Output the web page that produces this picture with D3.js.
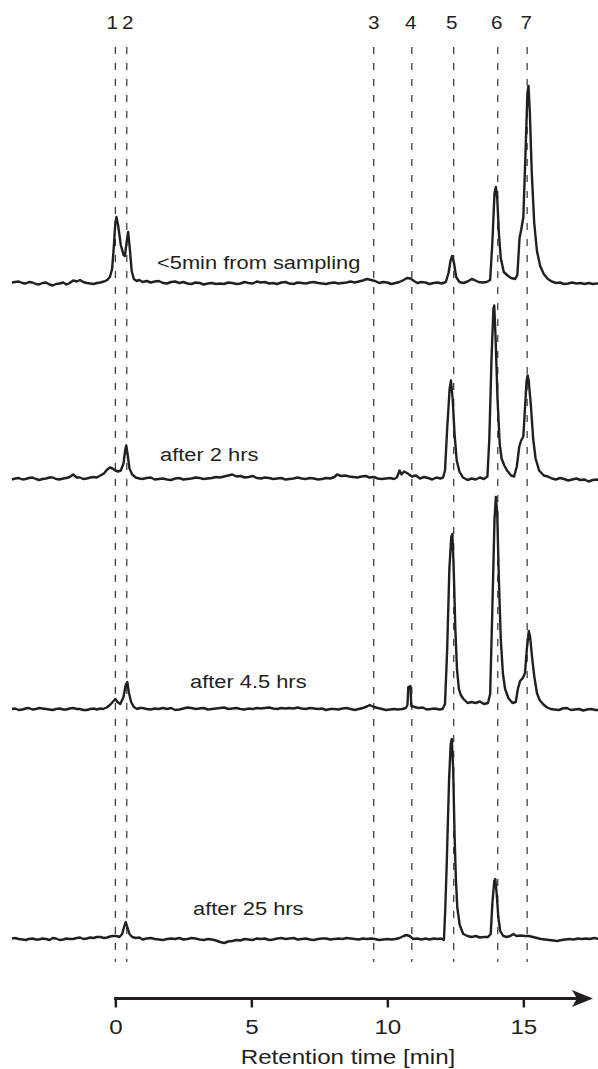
<!DOCTYPE html>
<html>
<head>
<meta charset="utf-8">
<script src="https://cdn.jsdelivr.net/npm/d3@7"></script>
<style>
  body { margin: 0; background: #fff; }
  svg { display: block; font-family: "Liberation Sans", Arial, Helvetica, sans-serif; }
</style>
</head>
<body>
<div id="chart"></div>
<script>
// marked compounds and their retention times (min)
const peakLabels = ["1", "2", "3", "4", "5", "6", "7"];
const peakTimes = [0.0, 0.42, 9.5, 10.9, 12.44, 14.06, 15.14];

const traceNames = ["<5min from sampling", "after 2 hrs", "after 4.5 hrs", "after 25 hrs"];
const xTicks = [0, 5, 10, 15];

// [retention time (min), detector signal (a.u.)]
const trace5min = [
  [-3.8,0.5],[-3.68,1],[-3.55,1.5],[-3.42,0],[-3.3,-0.5],[-3.18,1],[-3.05,0.5],[-2.92,-1],[-2.8,-1.5],
  [-2.68,0],[-2.55,0.5],[-2.42,-1.5],[-2.3,-2.5],[-2.18,-1],[-2.05,-0.5],[-1.92,0.5],[-1.8,-1.5],
  [-1.68,0],[-1.55,2.5],[-1.42,1.5],[-1.3,3],[-1.18,1],[-1.05,0],[-0.92,-0.5],[-0.8,-1],[-0.68,0],
  [-0.55,0.5],[-0.42,1.5],
  [-0.3,3],[-0.2,6],[-0.12,14],[-0.06,35],[0.0,60],[0.04,66],[0.1,58],[0.2,38],[0.3,28],[0.35,27],
  [0.41,40],[0.47,51],[0.53,35],[0.6,12],[0.68,4],[0.78,2],[0.88,3],
  [1.0,1],[1.15,2],[1.3,0.5],[1.45,1.5],[1.6,2],[1.75,0],[1.9,-0.5],[2.05,1],[2.2,1.5],[2.35,0],
  [2.5,1],[2.65,-0.5],[2.8,-1],[2.95,0.5],[3.1,0],[3.25,-1.5],[3.4,-0.5],[3.55,0],[3.7,-1],[3.85,-0.5],
  [4.0,-1],[4.15,0.5],[4.3,0],[4.45,-1],[4.6,-0.5],[4.75,1],[4.9,0],[5.05,-0.5],[5.2,1.5],[5.35,0.5],
  [5.5,1],[5.65,-0.5],[5.8,0],[5.95,-1],[6.1,0.5],[6.25,1],[6.4,-0.5],[6.55,-1],[6.7,0.5],[6.85,0],
  [7.0,-0.5],[7.15,0.5],[7.3,1],[7.45,0],[7.6,-0.5],[7.75,-1],[7.9,0],[8.05,0.5],[8.2,-0.5],[8.35,0],
  [8.5,0.5],[8.65,1.5],[8.8,0.5],[8.95,1.5],[9.1,2.5],[9.25,4],[9.4,3],[9.55,2],[9.7,0],[9.85,1],
  [10.0,0.5],[10.15,-1],[10.3,0],[10.45,1],[10.6,3],[10.72,5],[10.85,4.5],[10.98,2],[11.1,0],
  [11.25,1],[11.4,0.5],[11.55,-1],[11.7,0],[11.85,0.5],[12.0,-0.5],[12.15,1],
  [12.25,10],[12.32,22],[12.38,27],[12.45,20],[12.53,6],[12.65,1],[12.8,0],[12.95,1.5],[13.1,4],
  [13.2,3],[13.35,1],[13.5,0.5],[13.65,1],[13.78,3],[13.86,40],[13.94,90],[13.99,96],[14.04,85],
  [14.1,50],[14.17,25],[14.28,11],[14.4,8],[14.55,5],[14.7,4],[14.78,8],[14.86,45],[14.92,53],
  [15.0,66],[15.08,130],[15.15,190],[15.19,197],[15.24,170],[15.31,110],[15.4,60],[15.5,32],
  [15.62,17],[15.75,9],[15.9,4],
  [16.05,1.5],[16.2,0],[16.35,0.5],[16.5,-1],[16.65,-0.5],[16.8,0.5],[16.95,-0.5],[17.1,0],
  [17.25,-1],[17.4,0],[17.55,-1],[17.7,-0.5],[17.8,0]
];

const trace2h = [
  [-3.8,-1],[-3.68,0],[-3.55,0.5],[-3.42,-1],[-3.3,-0.5],[-3.18,0.5],[-3.05,1],[-2.92,-0.5],
  [-2.8,-1.5],[-2.68,-0.5],[-2.55,0],[-2.42,1],[-2.3,1],[-2.18,-0.5],[-2.05,-1],[-1.92,0],[-1.8,0.5],
  [-1.68,1.5],[-1.55,4],[-1.42,1],[-1.3,1],[-1.18,-0.5],[-1.05,0],[-0.92,1],[-0.8,1.5],[-0.68,1],
  [-0.55,3],
  [-0.42,5],[-0.3,9],[-0.2,11],[-0.1,10],[0.0,8],[0.1,7],[0.2,8],[0.3,15],[0.36,28],[0.4,33],
  [0.45,24],[0.52,10],[0.62,4],[0.75,1],[0.88,0],
  [1.0,-0.5],[1.15,0.5],[1.3,1],[1.45,-1],[1.6,-0.5],[1.75,0],[1.9,-1],[2.05,-1.5],[2.2,0],[2.35,0.5],
  [2.5,-1],[2.65,-0.5],[2.8,0],[2.95,1],[3.1,0.5],[3.25,-0.5],[3.4,0],[3.55,0.5],[3.7,1.5],[3.85,1],
  [4.0,2],[4.15,3],[4.3,4],[4.45,2],[4.6,2.5],[4.75,1],[4.9,1.5],[5.05,2.5],[5.2,0.5],[5.35,0],
  [5.5,1],[5.65,0.5],[5.8,-0.5],[5.95,0],[6.1,0.5],[6.25,-1],[6.4,-0.5],[6.55,0],[6.7,1],[6.85,0],
  [7.0,-0.5],[7.15,0.5],[7.3,0],[7.45,-1],[7.6,-0.5],[7.75,0.5],[7.9,0],[8.05,1.5],[8.15,4],
  [8.3,2.5],[8.45,3],[8.6,2],[8.75,1.5],[8.9,1],[9.05,2],[9.2,2.5],[9.35,1],[9.5,1.5],[9.65,0],
  [9.8,-0.5],[9.95,0],[10.1,0.5],[10.25,-0.5],[10.35,1],[10.45,8],[10.52,4],[10.62,7],[10.75,5],
  [10.9,2],[11.05,3],[11.2,0],[11.35,1.5],[11.5,0.5],[11.65,-1],[11.8,1],[11.95,0],
  [12.05,1],[12.12,8],[12.2,50],[12.29,90],[12.34,98],[12.4,80],[12.47,45],[12.55,18],[12.65,7],
  [12.78,1],[12.95,-1.5],[13.1,0],[13.25,-1],[13.4,1],[13.55,-0.5],[13.68,2],[13.75,40],[13.83,120],
  [13.9,170],[13.93,173],[13.98,140],[14.05,80],[14.13,35],[14.2,20],[14.3,13],[14.4,8],[14.55,3],
  [14.66,2],[14.76,12],[14.85,32],[14.92,38],[15.0,42],[15.06,70],[15.12,98],[15.16,103],[15.2,97],
  [15.28,72],[15.36,40],[15.45,20],[15.58,8],[15.75,3],
  [15.9,2],[16.05,0],[16.2,-1],[16.35,0.5],[16.5,-0.5],[16.65,-2],[16.8,-1],[16.95,0],[17.1,-1.5],
  [17.25,-1],[17.4,-3],[17.55,-1.5],[17.7,-1],[17.8,-2]
];

const trace4h = [
  [-3.8,0],[-3.68,0.5],[-3.55,-1],[-3.42,-0.5],[-3.3,0.5],[-3.18,1],[-3.05,-0.5],[-2.92,0],[-2.8,1],
  [-2.68,0.5],[-2.55,0],[-2.42,-0.5],[-2.3,-1],[-2.18,0],[-2.05,0.5],[-1.92,-0.5],[-1.8,-0.5],
  [-1.68,0.5],[-1.55,1],[-1.42,0],[-1.3,0],[-1.18,-1],[-1.05,-1],[-0.92,0],[-0.8,0.5],[-0.68,-0.5],
  [-0.55,0.5],
  [-0.45,0],[-0.32,1.5],[-0.2,4],[-0.1,7],[0.0,10],[0.08,7],[0.18,5],[0.3,12],[0.38,24],[0.44,27],
  [0.5,16],[0.58,7],[0.68,2],[0.8,0],[0.9,1],
  [1.0,1],[1.15,0],[1.3,-0.5],[1.45,0.5],[1.6,0],[1.75,1],[1.9,0],[2.05,1],[2.2,-1],[2.35,-0.5],
  [2.5,0.5],[2.65,1.5],[2.8,1],[2.95,0],[3.1,0.5],[3.25,1],[3.4,-0.5],[3.55,0],[3.7,0.5],[3.85,1],
  [4.0,1.5],[4.15,0],[4.3,0.5],[4.45,1],[4.6,0],[4.75,-0.5],[4.9,0.5],[5.05,0],[5.2,1],[5.35,0.5],
  [5.5,1],[5.65,1.5],[5.8,0.5],[5.95,0],[6.1,1],[6.25,0.5],[6.4,1],[6.55,0.5],[6.7,1.5],[6.85,0.5],
  [7.0,0],[7.15,1],[7.3,0.5],[7.45,0],[7.6,0.5],[7.75,-1],[7.9,0],[8.05,0],[8.2,-0.5],[8.35,0.5],
  [8.5,1],[8.65,0],[8.8,-1],[8.95,0],[9.1,1],[9.25,2.5],[9.35,4],[9.5,2],[9.65,1],[9.8,0],
  [9.95,-1],[10.1,-0.5],[10.25,0],[10.4,-0.5],[10.55,0],[10.68,1],
  [10.74,4],[10.77,22],[10.85,23],[10.88,3],[11.0,2],[11.15,1],[11.3,1.5],[11.45,-0.5],[11.6,0],
  [11.75,0.5],[11.9,-0.5],[12.03,0],[12.12,5],[12.2,60],[12.28,140],[12.35,172],[12.39,175],
  [12.44,140],[12.5,80],[12.56,40],[12.63,20],[12.7,14],[12.8,10],[12.95,6],[13.1,7],[13.25,6],
  [13.4,7.5],[13.55,5],[13.7,6],[13.78,15],[13.86,100],[13.94,190],[13.99,212],[14.04,195],
  [14.1,130],[14.17,70],[14.25,35],[14.33,20],[14.45,11],[14.6,6],[14.72,7],[14.8,20],[14.88,28],
  [14.98,31],[15.06,36],[15.13,60],[15.2,78],[15.25,72],[15.32,52],[15.4,33],[15.5,16],[15.6,9],
  [15.72,5],[15.85,2],
  [16.0,0],[16.15,-0.5],[16.3,-1],[16.45,0.5],[16.6,1],[16.75,-1],[16.9,-0.5],[17.05,0],[17.2,-1.5],
  [17.35,-0.5],[17.5,0],[17.65,-1],[17.8,-1]
];

const trace25h = [
  [-3.8,0.5],[-3.68,1],[-3.55,0],[-3.42,-0.5],[-3.3,-1],[-3.18,0],[-3.05,0.5],[-2.92,-0.5],
  [-2.8,-0.5],[-2.68,0.5],[-2.55,0],[-2.42,-1],[-2.3,1],[-2.18,0.5],[-2.05,-1],[-1.92,-0.5],
  [-1.8,0.5],[-1.68,0],[-1.55,0],[-1.42,1],[-1.3,1.5],[-1.18,0],[-1.05,0.5],[-0.92,1.5],[-0.8,1],
  [-0.68,2],[-0.55,2],
  [-0.42,1],[-0.3,1.5],[-0.2,2.5],[-0.1,3],[0.05,3],[0.15,2],[0.25,5],[0.32,12],[0.38,17],
  [0.44,12],[0.52,5],[0.62,2],[0.75,1],[0.88,1.5],
  [1.0,-0.5],[1.15,0.5],[1.3,1],[1.45,0],[1.6,-0.5],[1.75,-1],[1.9,0],[2.05,0.5],[2.2,0],[2.35,1],
  [2.5,-0.5],[2.65,0],[2.8,1],[2.95,0.5],[3.1,-0.5],[3.25,-1],[3.4,0],[3.55,-0.5],[3.7,-1.5],
  [3.85,-3],[4.0,-4],[4.15,-2.5],[4.3,-2],[4.45,-1],[4.6,-1.5],[4.75,0],[4.9,-0.5],[5.05,-1],
  [5.2,0.5],[5.35,0],[5.5,0.5],[5.65,-1],[5.8,-0.5],[5.95,0.5],[6.1,1],[6.25,0],[6.4,0.5],[6.55,1],
  [6.7,-0.5],[6.85,0],[7.0,0.5],[7.15,-0.5],[7.3,-1],[7.45,0],[7.6,0.5],[7.75,0.5],[7.9,-0.5],
  [8.05,0],[8.2,0.5],[8.35,0],[8.5,1],[8.65,0.5],[8.8,0],[8.95,-0.5],[9.1,0.5],[9.25,0],[9.4,0.5],
  [9.55,0],[9.7,-1],[9.85,-0.5],[10.0,0],[10.15,-0.5],[10.3,0],[10.45,1],[10.6,3],[10.7,4],
  [10.82,3],[10.95,0],[11.1,0.5],[11.25,-0.5],[11.4,0.5],[11.55,-0.5],[11.7,0.5],[11.85,0],[11.98,0.5],
  [12.08,-1],[12.13,30],[12.18,72],[12.27,160],[12.33,195],[12.37,200],[12.42,170],[12.47,105],
  [12.52,60],[12.57,32],[12.66,14],[12.79,5],[12.95,3],[13.1,2],[13.25,3],[13.4,1.5],[13.55,2],
  [13.7,2],[13.8,5],[13.86,35],[13.93,58],[13.97,60],[14.02,45],[14.08,22],[14.15,8],[14.26,3],
  [14.4,2],[14.52,3],[14.63,5],[14.75,3],[14.9,3.5],[15.05,3],[15.2,3],[15.35,2],[15.5,1],
  [15.65,0],[15.8,-0.5],[15.95,-1],[16.1,-1.5],[16.25,-2],[16.4,-1],[16.55,-0.5],[16.7,0],
  [16.85,-0.5],[17.0,0.5],[17.15,0],[17.3,0.5],[17.45,0],[17.6,1],[17.8,0]
];

const traces = [trace5min, trace2h, trace4h, trace25h];

// ---- layout ----
const W = 598, H = 1069;
const ink = "#231f20";
const baselines = [283, 478.5, 709, 939];   // y of each chromatogram's baseline
const labelPos = [[157, -14], [160, -17.5], [190, -21], [193, -24]];
const axisY = 998.5;
const stretch = 1.15;                       // lettering in the source is slightly wide

const svg = d3.select("#chart").append("svg")
    .attr("width", W)
    .attr("height", H);

// retention time scale
const x = d3.scaleLinear()
    .domain([-3.8, 17.8])
    .range([12, 599.5]);

// signal scale (shared by all traces, drawn upwards from each baseline)
const y = d3.scaleLinear()
    .domain([0, 200])
    .range([0, -200]);

// dashed markers for the numbered compounds
svg.append("g")
  .selectAll("line")
  .data(peakTimes)
  .join("line")
    .attr("x1", d => x(d)).attr("x2", d => x(d))
    .attr("y1", 47).attr("y2", 962)
    .attr("stroke", "#333")
    .attr("stroke-width", 1.2)
    .attr("stroke-dasharray", "7,9");

// compound numbers; 1 and 2 are pushed apart a little
const labelNudge = [-3, 1, 0, -1, -2, -1, -1];
svg.append("g")
  .selectAll("text")
  .data(peakLabels)
  .join("text")
    .attr("transform", (d, i) => `translate(${x(peakTimes[i]) + labelNudge[i]},29) scale(${stretch},1)`)
    .attr("text-anchor", "middle")
    .attr("font-size", 18)
    .attr("fill", ink)
    .text(d => d);

const line = d3.line()
    .x(d => x(d[0]))
    .y(d => y(d[1]));

const traceG = svg.selectAll(".trace")
  .data(traces)
  .join("g")
    .attr("class", "trace")
    .attr("transform", (d, i) => `translate(0,${baselines[i]})`);

traceG.append("path")
    .attr("d", d => line(d))
    .attr("fill", "none")
    .attr("stroke", ink)
    .attr("stroke-width", 2.4)
    .attr("stroke-linejoin", "round");

traceG.append("text")
    .attr("transform", (d, i) => `translate(${labelPos[i][0]},${labelPos[i][1]}) scale(${stretch},1)`)
    .attr("font-size", 19)
    .attr("fill", ink)
    .text((d, i) => traceNames[i]);

// x axis with arrow
const xAxis = d3.axisBottom(x)
    .tickValues(xTicks)
    .tickSize(9)
    .tickPadding(12)
    .tickFormat(d3.format("d"));

const axisG = svg.append("g")
    .attr("transform", `translate(0,${axisY})`)
    .call(xAxis);

axisG.select(".domain").remove();
axisG.selectAll(".tick line")
    .attr("stroke", ink)
    .attr("stroke-width", 2.5);
axisG.selectAll(".tick text")
    .attr("font-size", 21)
    .attr("fill", ink)
    .attr("font-family", "Liberation Sans, Arial, sans-serif")
    .attr("transform", `scale(${stretch},1)`);

const tipX = x(17.56);
axisG.append("line")
    .attr("x1", x(0) - 1.25)
    .attr("x2", tipX - 12)
    .attr("stroke", ink)
    .attr("stroke-width", 3);

axisG.append("path")
    .attr("d", `M${tipX},0 L${tipX - 21},-8.5 L${tipX - 16},0 L${tipX - 21},8.5 Z`)
    .attr("fill", ink);

svg.append("text")
    .attr("transform", `translate(348,1064) scale(${stretch},1)`)
    .attr("text-anchor", "middle")
    .attr("font-size", 21)
    .attr("fill", ink)
    .text("Retention time [min]");
</script>
</body>
</html>
